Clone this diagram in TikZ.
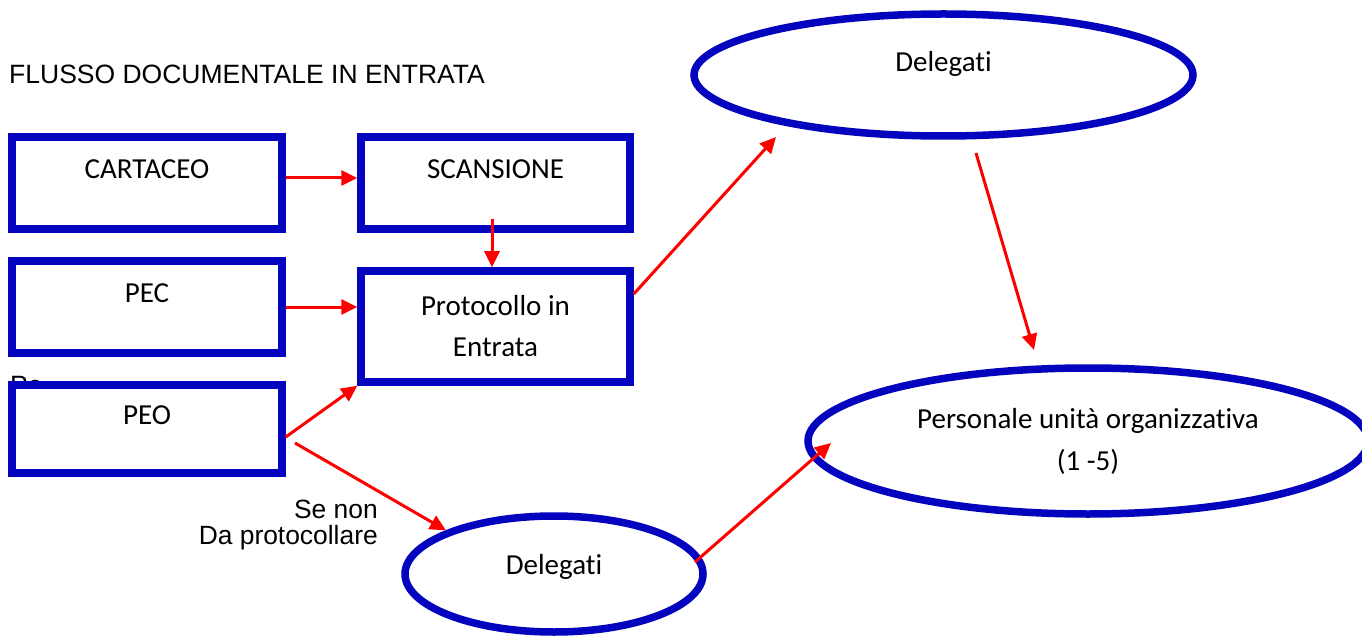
\documentclass[tikz,border=0pt]{standalone}
\usepackage{fontspec}
\setmainfont{Carlito}[Ligatures=NoCommon]
\newfontfamily\arialf{Liberation Sans}
\usetikzlibrary{arrows.meta,shapes.geometric}
\definecolor{boxblue}{RGB}{4,4,190}
\definecolor{arrred}{RGB}{255,0,0}
\begin{document}
\begin{tikzpicture}[x=1pt,y=-1pt,
  blk/.style={draw=boxblue, line width=7.5pt, fill=white, rectangle, inner sep=0pt,
    font=\fontsize{29}{41}\selectfont, text height=6pt, text depth=14.3pt},
  ell/.style={draw=boxblue, line width=7.5pt, ellipse, inner sep=0pt,
    font=\fontsize{29}{42}\selectfont},
  arr/.style={draw=arrred, line width=3pt, -{Triangle[length=16pt,width=15pt]}},
  lbl/.style={font=\arialf\fontsize{26.5}{25}\selectfont, inner sep=0pt}]
\useasboundingbox (0,0) rectangle (1362,636);
\node[lbl, anchor=base west] (title) at (9,83.5) {FLUSSO DOCUMENTALE IN ENTRATA};
\node[lbl, anchor=base west] (hid) at (10,394.5) {Pe};
\node[blk, minimum width=270pt, minimum height=92pt] (cart) at (147,183) {CARTACEO};
\node[blk, minimum width=269pt, minimum height=92pt] (scan) at (495.5,183) {SCANSIONE};
\node[blk, minimum width=270pt, minimum height=92pt] (pec) at (147,307) {PEC};
\node[blk, minimum width=270pt, minimum height=88pt] (peo) at (147,429) {PEO};
\node[blk, minimum width=269pt, minimum height=111pt, align=center, text height=, text depth=] (prot) at (495.5,326.5) {Protocollo in\\Entrata};
\node[ell, minimum width=499pt, minimum height=122pt, text height=8pt, text depth=14pt] (del1) at (943.5,75) {Delegati};
\node[ell, minimum width=298pt, minimum height=116pt, text height=10pt, text depth=10pt] (del2) at (554,574) {Delegati};
\node[ell, minimum width=560pt, minimum height=146pt, align=center] (pers) at (1088,441) {Personale unità organizzativa\\(1 -5)};
\node[lbl, font=\arialf\fontsize{26.4}{26}\selectfont, align=right, anchor=south east] (senon) at (378,550) {Se non\\Da protocollare};
\coordinate (s5) at (295,443);
\coordinate (e6) at (776,137);
\coordinate (s7) at (976,153);
\coordinate (e7) at (1034,350);
\coordinate (s8) at (695,562);
\coordinate (e8) at (831,443);
\draw[arr] ([yshift=5pt]cart.east) -- ([yshift=5pt]scan.west);
\draw[arr] ([xshift=-3.5pt,yshift=14pt]scan.south) -- ([xshift=-3.5pt]prot.north);
\draw[arr] (pec.east) -- (pec.east -| prot.west);
\draw[arr] ([yshift=-8pt]peo.east) -- (prot.south west);
\draw[arr] (s5) -- (del2.158);
\draw[arr] ([yshift=32.5pt]prot.east) -- (e6);
\draw[arr] (s7) -- (e7);
\draw[arr] (s8) -- (e8);
\end{tikzpicture}
\end{document}
